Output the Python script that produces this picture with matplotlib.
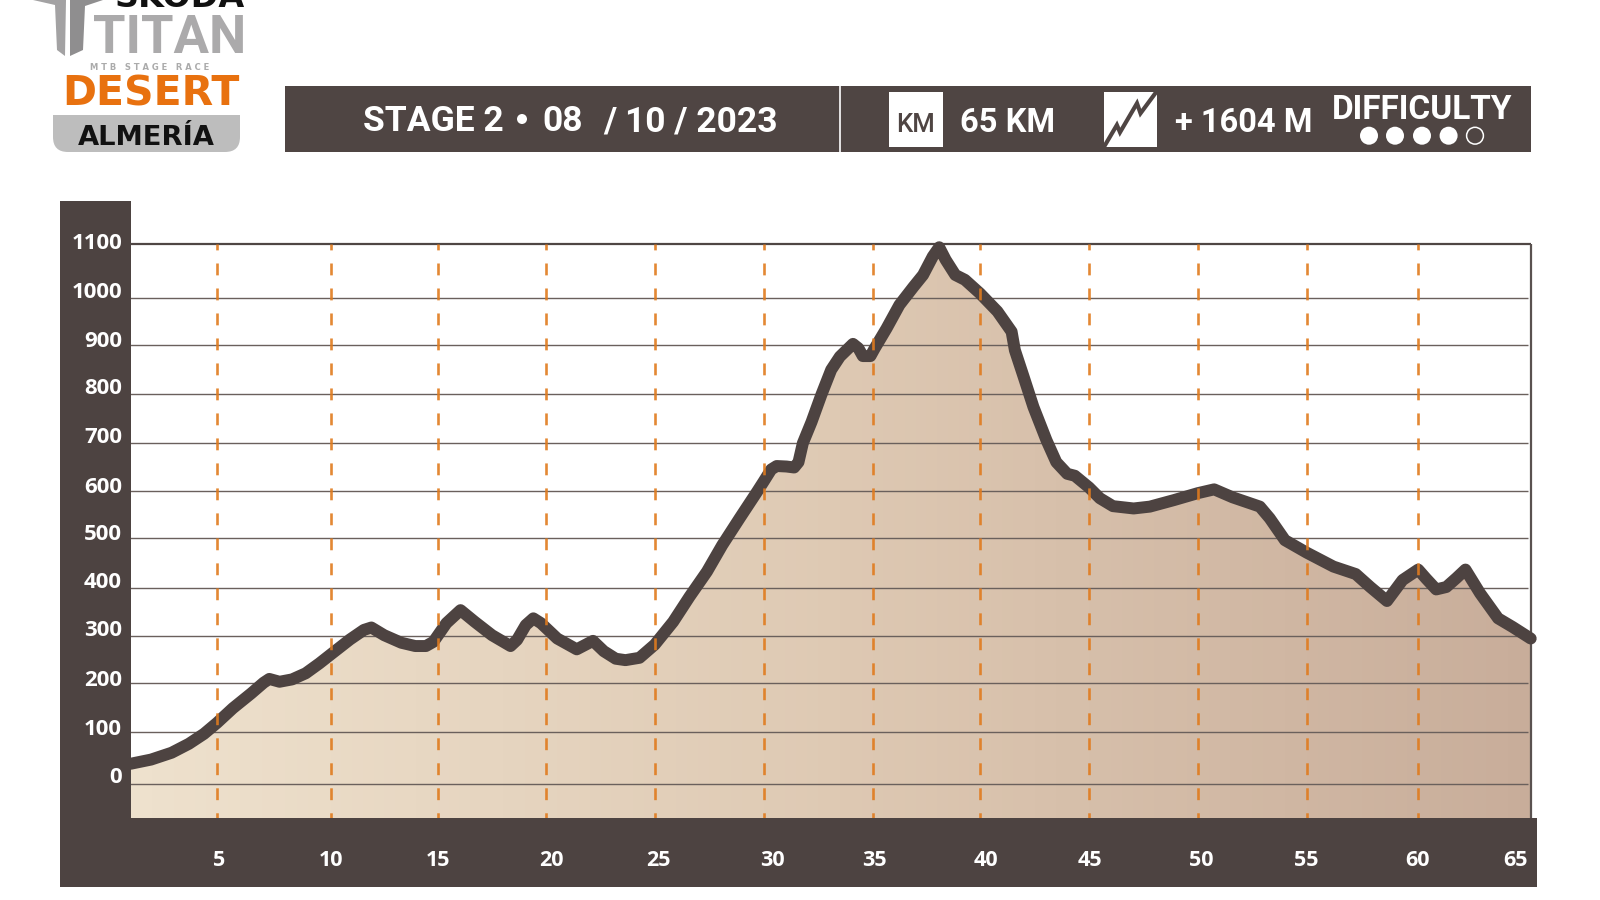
import numpy as np
import matplotlib
matplotlib.use("Agg")
import matplotlib.pyplot as plt
from matplotlib.colors import LinearSegmentedColormap
from matplotlib.patches import Rectangle, Circle, Polygon, FancyBboxPatch

# elevation profile
km = [1, 1.95, 2.9, 3.7, 4.4, 5, 5.7, 6.5, 7.05, 7.3, 7.75, 8.3, 8.9, 9.5, 10,
      10.9, 11.55, 11.9, 12.5, 13.3, 13.95, 14.45, 14.8, 15.4, 16.05, 16.7, 17.5,
      18.35, 18.65, 19.05, 19.4, 19.75, 20.5, 21.4, 22.15, 22.65, 23.2, 23.65, 24.3,
      25, 25.85, 26.6, 27.4, 28.1, 28.9, 29.7, 30, 30.35, 30.6, 31.05, 31.4, 31.6,
      31.8, 32.2, 32.65, 33.1, 33.5, 34.1, 34.35, 34.55, 34.9, 35.1, 35.65, 36.25,
      36.9, 37.35, 37.8, 38.1, 38.4, 38.85, 39.3, 40, 40.8, 41.45, 41.6, 42, 42.45,
      43.05, 43.5, 44, 44.35, 45, 45.5, 46.1, 47.05, 47.8, 48.9, 50, 50.75, 51.6,
      52.85, 53.3, 54, 55, 56.2, 57.2, 57.85, 58.6, 59.3, 60, 60.35, 60.8, 61.25,
      61.7, 62.1, 62.75, 63.55, 64.2, 65]
elevation = [39, 47, 60, 77, 96, 118, 148, 178, 200, 208, 202, 207, 220, 241, 260,
             292, 312, 317, 301, 285, 278, 278, 287, 326, 353, 329, 301,
             278, 291, 322, 336, 326, 294, 271, 289, 267, 251, 248, 253,
             281, 329, 381, 432, 485, 542, 599, 620, 645, 652, 651, 649, 660,
             699, 743, 799, 850, 877, 903, 894, 878, 878, 894, 936, 986,
             1021, 1043, 1077, 1094, 1071, 1043, 1034, 1009, 972, 929, 890, 836, 774,
             705, 660, 636, 632, 608, 585, 568, 563, 567, 581, 596, 604, 587,
             567, 542, 495, 470, 442, 427, 401, 372, 415, 436, 418, 396, 401,
             419, 436, 388, 336, 318, 294]

elev_ticks = [0, 100, 200, 300, 400, 500, 600, 700, 800, 900, 1000, 1100]
km_ticks = [5, 10, 15, 20, 25, 30, 35, 40, 45, 50, 55, 60]
km_tick_labels = km_ticks + [65]

# the original is drawn by hand, its gridlines are not evenly spaced
x_knots = [1] + km_ticks + [65]
x_knot_px = [130.5, 217, 330.7, 437.7, 546.4, 654.7, 763.6, 872.6, 980, 1089, 1197.8, 1306.7, 1418.2, 1530.7]
y_knots = [-64] + elev_ticks
y_knot_px = [818, 784.3, 731.7, 682.7, 635.7, 587.5, 537.7, 491.3, 442.7, 394.3, 345.3, 298.3, 244]

# label centres in pixels
ylabel_px = [775, 727, 678, 628, 580, 532, 485, 435, 386, 339, 290, 241]
xlabel_px = [219, 331, 438, 551, 658, 772.5, 874.6, 986, 1090, 1201, 1306, 1417, 1515]

DARK = "#4D4341"
ORANGE = "#E07B1E"
FONT = "Roboto"


def x_fwd(v):
    return np.interp(v, x_knots, x_knot_px)

def x_inv(v):
    return np.interp(v, x_knot_px, x_knots)

def y_fwd(v):
    return np.interp(v, y_knots, -np.array(y_knot_px))

def y_inv(v):
    return np.interp(v, -np.array(y_knot_px), y_knots)


fig = plt.figure(figsize=(16, 9), dpi=100, facecolor="white")

# pixel layer for the header, logo and bands
bg = fig.add_axes([0, 0, 1, 1], zorder=1)
bg.set_xlim(0, 1600)
bg.set_ylim(900, 0)
bg.axis("off")

# chart
ax = fig.add_axes([130.5 / 1600, 1 - 818 / 900, 1400.2 / 1600, (818 - 244) / 900], zorder=2)
ax.set_xscale("function", functions=(x_fwd, x_inv))
ax.set_yscale("function", functions=(y_fwd, y_inv))
ax.set_xlim(1, 65)
ax.set_ylim(-64, 1100)
ax.patch.set_alpha(0)
for s in ax.spines.values():
    s.set_visible(False)
ax.set_xticks([])
ax.set_yticks([])
ax.minorticks_off()

# gradient fill under the profile
cmap = LinearSegmentedColormap.from_list("sand", ["#EEE1CD", "#DEC9B3", "#C8AD9A"])
shape = ax.fill_between(km, elevation, -64, color="none", linewidth=0)
xs = np.linspace(1, 65, 129)
mesh = ax.pcolormesh(xs, [-64, 1100], ((xs[:-1] + xs[1:]) / 2)[None, :], cmap=cmap, zorder=1, shading="flat")
mesh.set_clip_path(shape.get_paths()[0], transform=ax.transData)

# gridlines
ax.hlines(elev_ticks[:-1], 1, 64.9, color="#6A605C", lw=1.0, zorder=2)
ax.hlines(elev_ticks[-1], 1, 65, color="#4F4644", lw=1.6, zorder=2, clip_on=False)
ax.vlines(65, -64, 1100, color="#5A5250", lw=1.6, zorder=2, clip_on=False)

ax.plot(km, elevation, color=DARK, lw=8.6, solid_capstyle="round", solid_joinstyle="round",
        zorder=3, clip_on=False)

# km markers
for k in km_ticks:
    ax.plot([k, k], [1100, -64], color=ORANGE, lw=1.9, alpha=0.9, zorder=4,
            linestyle=(2.27, (4.5, 4.97)), dash_capstyle="butt")

# bands
bg.add_patch(Rectangle((59.5, 201), 71, 686, color=DARK, lw=0))
bg.add_patch(Rectangle((59.5, 818), 1477.5, 69, color=DARK, lw=0))

for v, py in zip(elev_ticks, ylabel_px):
    bg.text(122, py, str(v), color="white", fontsize=16, fontweight="bold", family="Open Sans",
            ha="right", va="center_baseline")
for v, px in zip(km_tick_labels, xlabel_px):
    bg.text(px, 858, str(v), color="white", fontsize=15.5, fontweight="bold", family="Open Sans",
            ha="center", va="center_baseline")

# header bar
bg.add_patch(Rectangle((284.8, 86), 1246, 65.7, color="#4F4543", lw=0))
bg.plot([840.3, 840.3], [86, 151.7], color="white", lw=1.2)

head = dict(color="white", fontweight="bold", family=FONT, va="center_baseline")
bg.text(363, 118, "STAGE 2", fontsize=25.5, ha="left", **head)
bg.add_patch(Circle((522, 119), 5, color="white", lw=0))
bg.text(542, 118, "08", fontsize=25.5, ha="left", **head)
bg.text(603, 118, "/ 10 / 2023", fontsize=25.5, ha="left", **head)

bg.add_patch(Rectangle((889, 92), 54, 55, color="white", lw=0))
bg.text(915, 122, "KM", color="#4F4543", fontsize=18.5, fontweight="medium", family=FONT,
        ha="center", va="center_baseline")
bg.text(960, 119, "65 KM", fontsize=23.5, ha="left", **head)

bg.add_patch(Rectangle((1103.5, 92), 53.5, 55, color="white", lw=0))
bg.plot([1104.5, 1116.9, 1120, 1137, 1140.5, 1157], [146, 125, 132.3, 103.3, 113.3, 91],
        color="#4F4543", lw=3, solid_joinstyle="miter")
bg.text(1175, 119, "+ 1604 M", fontsize=23.5, ha="left", **head)

bg.text(1422, 106.5, "DIFFICULTY", fontsize=24, ha="center", **head)
for cx, filled in zip([1369, 1395, 1422, 1448.6, 1475], [True, True, True, True, False]):
    if filled:
        bg.add_patch(Circle((cx, 135.7), 9, color="white", lw=0))
    else:
        bg.add_patch(Circle((cx, 135.7), 8.4, facecolor="none", edgecolor="white", lw=1.1))

# logo
bg.add_patch(Polygon([(33, 0), (55, 5), (57, 50), (65, 56), (66, 0)], color="#A3A2A3", lw=0))
bg.add_patch(Polygon([(70, 0), (70, 56), (83, 50), (85, 6), (103, 0)], color="#8F8E8F", lw=0))
bg.text(180, 7, "SKODA", color="#111111", fontsize=24, fontweight="bold", ha="center", va="baseline")
bg.text(170, 53, "TITAN", color="#ABAAAB", fontsize=38, fontweight="bold", family=FONT,
        ha="center", va="baseline")
bg.text(150, 66, "M T B   S T A G E   R A C E", color="#ABABAB", fontsize=6, fontweight="bold",
        ha="center", va="center_baseline")
bg.text(150.5, 106, "DESERT", color="#E8710F", fontsize=29.5, fontweight="bold", ha="center", va="baseline")

bg.add_patch(Rectangle((53, 115), 187, 20, color="#BDBDBD", lw=0))
bg.add_patch(FancyBboxPatch((68, 130), 157, 7, boxstyle="round,pad=15,rounding_size=15",
                            color="#BDBDBD", lw=0))
bg.text(146, 145, "ALMERÍA", color="#111111", fontsize=19.7, fontweight="bold", ha="center", va="baseline")

fig.savefig("out.png", dpi=100)
